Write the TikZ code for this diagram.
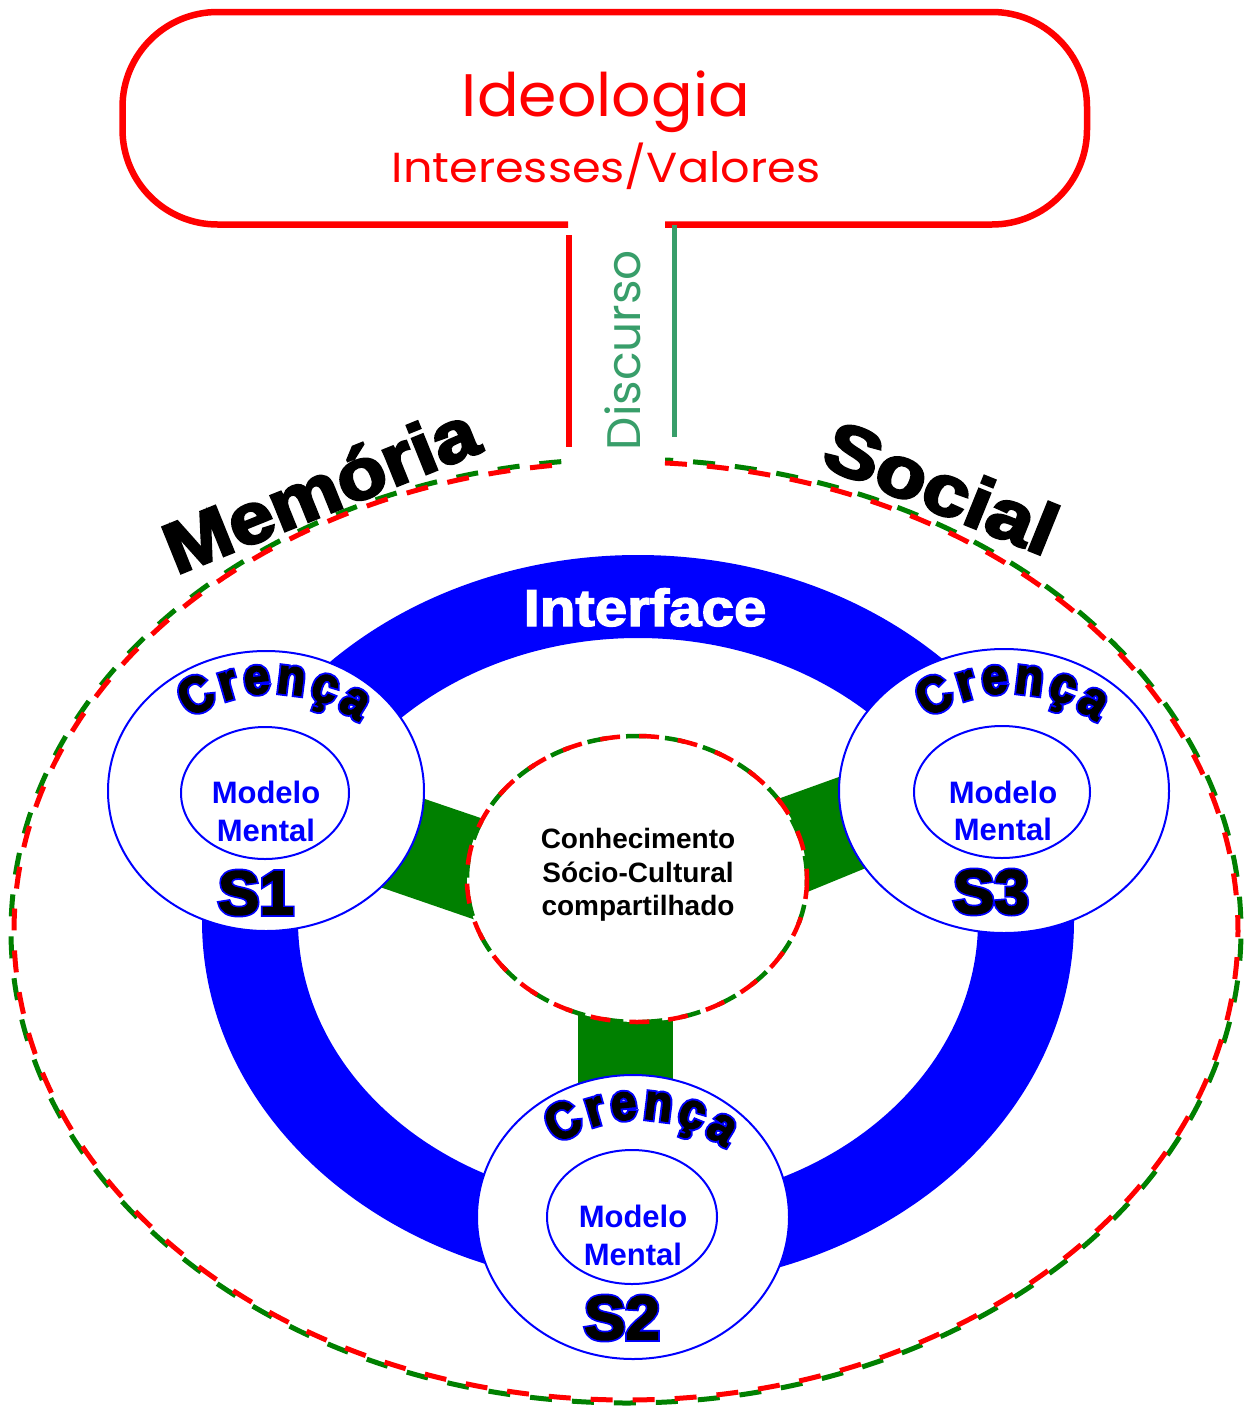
\documentclass[tikz,border=0pt]{standalone}
\usepackage{fontspec}
\setmainfont{Liberation Sans}
\usetikzlibrary{decorations.text}
\newfontfamily\boldsans{Liberation Sans Bold}
\newfontfamily\heavyfont[FakeBold=2.5]{Liberation Sans Bold}
\newfontfamily\hugefont[FakeBold=3.5]{Liberation Sans Bold}
\newfontfamily\outlineS[FakeBold=8]{Liberation Sans Bold}
\newfontfamily\crencafont[FakeBold=2.5, FakeStretch=0.9]{Liberation Sans Bold}
\newfontfamily\outlineC[FakeBold=10, FakeStretch=0.9]{Liberation Sans Bold}
\newfontfamily\ideofont{Poppins}
\newcommand\fsz[1]{\fontsize{#1}{#1}\selectfont}
\definecolor{pred}{RGB}{255,0,0}
\definecolor{pgreen}{RGB}{0,128,0}
\definecolor{pblue}{RGB}{0,0,255}
\definecolor{discgreen}{RGB}{56,158,106}
\tikzset{
  rdash/.style={draw=pred, line width=5pt, dash pattern=on 22pt off 20pt},
  gdash/.style={draw=pgreen, line width=5pt, dash pattern=on 22pt off 20pt, dash phase=14pt},
  rdashc/.style={draw=pred, line width=4.5pt, dash pattern=on 20pt off 19pt},
  gdashc/.style={draw=pgreen, line width=4.5pt, dash pattern=on 20pt off 19pt, dash phase=13pt},
  scircle/.style={fill=white, draw=pblue, line width=2pt},
  inell/.style={draw=pblue, line width=2pt},
  mm/.style={anchor=base, text=pblue, font=\boldsans\fsz{31}},
  slabo/.style={text=pblue, font=\outlineS\fsz{62}},
  slab/.style={text=black, font=\heavyfont\fsz{62}},
  conh/.style={anchor=base, text=black, font=\boldsans\fsz{28}},
  bigword/.style={anchor=base, text=black, font=\hugefont\fsz{72}},
}
\newcommand\crencaat[1]{%
  \begin{scope}[shift={#1}]
    \path[decorate, decoration={text along path, text={|\outlineC\fsz{51}\color{pblue}|Crença}, text align={fit to path}}]
      (6,45) ++(-125:143) arc[start angle=-125, end angle=-53, radius=143];
    \path[decorate, decoration={text along path, text={|\crencafont\fsz{51}\color{black}|Crença}, text align={fit to path}}]
      (6,45) ++(-125:143) arc[start angle=-125, end angle=-53, radius=143];
  \end{scope}}
\begin{document}
\begin{tikzpicture}[x=1pt,y=-1pt]
\useasboundingbox (0,0) rectangle (1246,1408);
\fill[white] (0,0) rectangle (1246,1408);

% top box
\draw[pred, line width=6.5pt, rounded corners=95pt]
  (568,224.5) -- (122.5,224.5) -- (122.5,12) -- (1087,12) -- (1087,224.5) -- (665,224.5);
\node (ideo) [anchor=base, text=pred, font=\ideofont\fsz{60}, xscale=1.03] at (606,116) {Ideologia};
\node (valores) [anchor=base, text=pred, font=\ideofont\fsz{42}, xscale=1.1] at (606,182) {Interesses/Valores};

% stem
\coordinate (rtop) at (569,235);
\coordinate (rbot) at (569,447);
\coordinate (gtop) at (674,225);
\coordinate (gbot) at (674,437);
\draw[pred, line width=6pt] (rtop) -- (rbot);
\draw[discgreen, line width=5pt] (gtop) -- (gbot);
\node (disc) [rotate=90, anchor=base, text=discgreen, font=\ideofont\fsz{47}] at (640,350) {Discurso};

% big dashed ellipse
\draw[gdash] (626,931) ++(273.65:615 and 472) arc[start angle=273.65, end angle=624.75, x radius=615, y radius=472];
\draw[rdash] (626,931) ++(273.65:612 and 469) arc[start angle=273.65, end angle=624.75, x radius=612, y radius=469];

% words
\node (mem) [bigword, rotate=22, xscale=1.12] at (330,513) {Memória};
\node (soc) [bigword, rotate=-22, xscale=1.15] at (932,511) {Social};

% blue ring
\fill[pblue, even odd rule] (638,921) ellipse [x radius=436, y radius=366]
  (638,921) ellipse [x radius=340, y radius=283];
\node (iface) [anchor=base, text=white, font=\heavyfont\fsz{52}, xscale=1.12] at (645,626) {Interface};

% green bars
\fill[pgreen] (300,756.5) -- (560,845) -- (560,949) -- (300,859.5) -- cycle;
\fill[pgreen] (740,812.6) -- (900,755) -- (930,841.7) -- (740,919.6) -- cycle;
\fill[pgreen] (578,990) rectangle (673,1110);

% centre circle
\fill[white] (637,879) ellipse [x radius=170, y radius=143];
\draw[gdashc] (637,879) ellipse [x radius=170, y radius=143];
\draw[rdashc] (637,879) ellipse [x radius=170, y radius=143];
\node (c1) [conh] at (638,848) {Conhecimento};
\node (c2) [conh] at (638,882) {Sócio-Cultural};
\node (c3) [conh] at (638,915) {compartilhado};

% S1
\filldraw[scircle] (266,791) ellipse [x radius=158, y radius=140];
\draw[inell] (265,793) ellipse [x radius=84, y radius=66];
\crencaat{(266,791)}
\node (s1a) [mm] at (266,803) {Modelo};
\node (s1b) [mm] at (266,841) {Mental};
\node (s1o) [slabo] at (256,893) {S1};
\node (s1) [slab] at (256,893) {S1};

% S3
\filldraw[scircle] (1004,791) ellipse [x radius=165, y radius=142];
\draw[inell] (1002,792) ellipse [x radius=88, y radius=66];
\crencaat{(1004,791)}
\node (s3a) [mm] at (1003,803) {Modelo};
\node (s3b) [mm] at (1003,840) {Mental};
\node (s3o) [slabo] at (991,892) {S3};
\node (s3) [slab] at (991,892) {S3};

% S2
\filldraw[scircle] (633,1217) ellipse [x radius=156, y radius=142];
\draw[inell] (632,1217) ellipse [x radius=85, y radius=67];
\crencaat{(633,1217)}
\node (s2a) [mm] at (633,1227) {Modelo};
\node (s2b) [mm] at (633,1265) {Mental};
\node (s2o) [slabo] at (622,1318) {S2};
\node (s2) [slab] at (622,1318) {S2};
\end{tikzpicture}
\end{document}
